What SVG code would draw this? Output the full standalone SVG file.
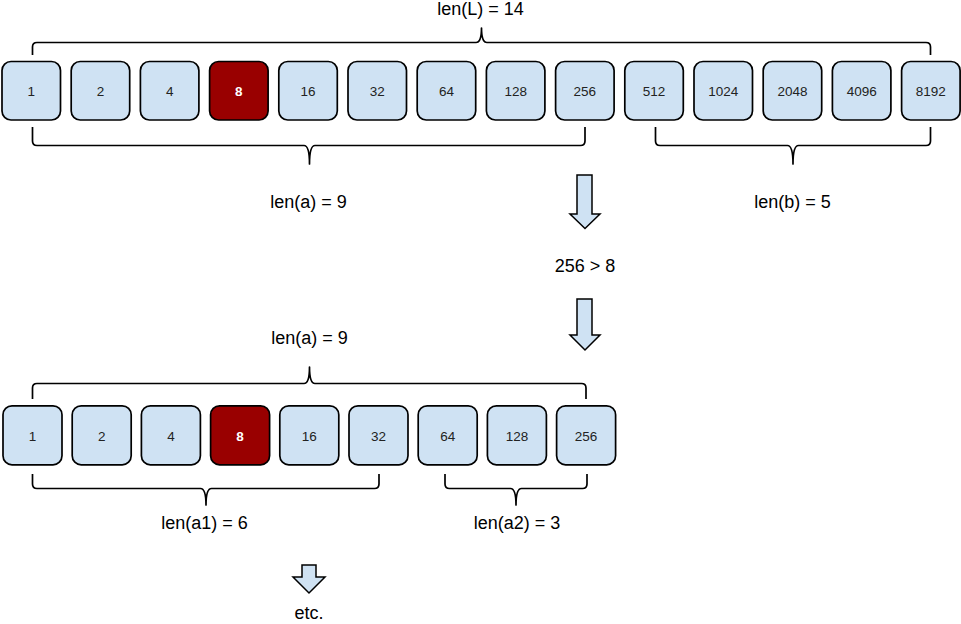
<svg xmlns="http://www.w3.org/2000/svg" width="961" height="624" viewBox="0 0 961 624">
<style>
.box{fill:#cfe2f3;stroke:#000;stroke-width:1.7}
.hl{fill:#990000;stroke:#000;stroke-width:1.7}
.num{font-family:"Liberation Sans",Arial,sans-serif;font-size:13.5px;fill:#222;text-anchor:middle}
.numw{font-family:"Liberation Sans",Arial,sans-serif;font-size:13.5px;font-weight:bold;fill:#fff;text-anchor:middle}
.lbl{font-family:"Liberation Sans",Arial,sans-serif;font-size:18px;fill:#000;text-anchor:middle}
.brace{fill:none;stroke:#000;stroke-width:1.7;stroke-linejoin:round}
.arrow{fill:#cfe2f3;stroke:#000;stroke-width:1.5;stroke-linejoin:miter}
</style>
<rect width="961" height="624" fill="#fff"/>
<g id="top-row">
<g id="t1"><rect class="box" x="2" y="61.5" width="58.5" height="58.5" rx="9"/><text class="num" x="31.25" y="96">1</text></g>
<g id="t2"><rect class="box" x="71.2" y="61.5" width="58.5" height="58.5" rx="9"/><text class="num" x="100.45" y="96">2</text></g>
<g id="t4"><rect class="box" x="140.4" y="61.5" width="58.5" height="58.5" rx="9"/><text class="num" x="169.65" y="96">4</text></g>
<g id="t8"><rect class="hl" x="209.6" y="61.5" width="58.5" height="58.5" rx="9"/><text class="numw" x="238.85" y="96">8</text></g>
<g id="t16"><rect class="box" x="278.8" y="61.5" width="58.5" height="58.5" rx="9"/><text class="num" x="308.05" y="96">16</text></g>
<g id="t32"><rect class="box" x="348" y="61.5" width="58.5" height="58.5" rx="9"/><text class="num" x="377.25" y="96">32</text></g>
<g id="t64"><rect class="box" x="417.2" y="61.5" width="58.5" height="58.5" rx="9"/><text class="num" x="446.45" y="96">64</text></g>
<g id="t128"><rect class="box" x="486.4" y="61.5" width="58.5" height="58.5" rx="9"/><text class="num" x="515.65" y="96">128</text></g>
<g id="t256"><rect class="box" x="555.6" y="61.5" width="58.5" height="58.5" rx="9"/><text class="num" x="584.85" y="96">256</text></g>
<g id="t512"><rect class="box" x="624.8" y="61.5" width="58.5" height="58.5" rx="9"/><text class="num" x="654.05" y="96">512</text></g>
<g id="t1024"><rect class="box" x="694" y="61.5" width="58.5" height="58.5" rx="9"/><text class="num" x="723.25" y="96">1024</text></g>
<g id="t2048"><rect class="box" x="763.2" y="61.5" width="58.5" height="58.5" rx="9"/><text class="num" x="792.45" y="96">2048</text></g>
<g id="t4096"><rect class="box" x="832.4" y="61.5" width="58.5" height="58.5" rx="9"/><text class="num" x="861.65" y="96">4096</text></g>
<g id="t8192"><rect class="box" x="901.6" y="61.5" width="58.5" height="58.5" rx="9"/><text class="num" x="930.85" y="96">8192</text></g>
</g>
<g id="bottom-row">
<g id="b1"><rect class="box" x="3" y="405.8" width="59" height="59" rx="9"/><text class="num" x="32.5" y="440.5">1</text></g>
<g id="b2"><rect class="box" x="72.2" y="405.8" width="59" height="59" rx="9"/><text class="num" x="101.7" y="440.5">2</text></g>
<g id="b4"><rect class="box" x="141.4" y="405.8" width="59" height="59" rx="9"/><text class="num" x="170.9" y="440.5">4</text></g>
<g id="b8"><rect class="hl" x="210.6" y="405.8" width="59" height="59" rx="9"/><text class="numw" x="240.1" y="440.5">8</text></g>
<g id="b16"><rect class="box" x="279.8" y="405.8" width="59" height="59" rx="9"/><text class="num" x="309.3" y="440.5">16</text></g>
<g id="b32"><rect class="box" x="349" y="405.8" width="59" height="59" rx="9"/><text class="num" x="378.5" y="440.5">32</text></g>
<g id="b64"><rect class="box" x="418.2" y="405.8" width="59" height="59" rx="9"/><text class="num" x="447.7" y="440.5">64</text></g>
<g id="b128"><rect class="box" x="487.4" y="405.8" width="59" height="59" rx="9"/><text class="num" x="516.9" y="440.5">128</text></g>
<g id="b256"><rect class="box" x="556.6" y="405.8" width="59" height="59" rx="9"/><text class="num" x="586.1" y="440.5">256</text></g>
</g>
<g id="braces">
<path class="brace" d="M32.5,55 L32.5,47 Q32.5,42.5 37,42.5 L476,42.5 Q481.5,42.5 481.5,28 Q481.5,42.5 487,42.5 L926,42.5 Q930.5,42.5 930.5,47 L930.5,55"/>
<path class="brace" d="M32.5,127 L32.5,141 Q32.5,145.5 37,145.5 L304,145.5 Q309.5,145.5 309.5,164 Q309.5,145.5 315,145.5 L580.5,145.5 Q585,145.5 585,141 L585,127"/>
<path class="brace" d="M655.5,127 L655.5,141 Q655.5,145.5 660,145.5 L787.5,145.5 Q793,145.5 793,164 Q793,145.5 798.5,145.5 L926,145.5 Q930.5,145.5 930.5,141 L930.5,127"/>
<path class="brace" d="M32.5,399 L32.5,388 Q32.5,383.5 37,383.5 L304,383.5 Q309.5,383.5 309.5,367 Q309.5,383.5 315,383.5 L581.5,383.5 Q586,383.5 586,388 L586,399"/>
<path class="brace" d="M32.5,474 L32.5,484 Q32.5,488.5 37,488.5 L200.5,488.5 Q206,488.5 206,505 Q206,488.5 211.5,488.5 L374.5,488.5 Q379,488.5 379,484 L379,474"/>
<path class="brace" d="M445,474 L445,484 Q445,488.5 449.5,488.5 L510.5,488.5 Q516,488.5 516,505 Q516,488.5 521.5,488.5 L582.5,488.5 Q587,488.5 587,484 L587,474"/>
</g>
<g id="connectors">
<polygon class="arrow" points="577,175 592,175 592,214 600,214 585,228.5 570,214 577,214"/>
<polygon class="arrow" points="577,299 592,299 592,335 600,335 585,350 570,335 577,335"/>
<polygon class="arrow" points="302,565 316,565 316,577 325,577 309,593 293,577 302,577"/>
</g>
<g id="labels">
<text class="lbl" x="480.5" y="15">len(L) = 14</text>
<text class="lbl" x="308.5" y="208">len(a) = 9</text>
<text class="lbl" x="792.5" y="208">len(b) = 5</text>
<text class="lbl" x="585" y="272">256 &gt; 8</text>
<text class="lbl" x="309.5" y="344">len(a) = 9</text>
<text class="lbl" x="204.5" y="529">len(a1) = 6</text>
<text class="lbl" x="517" y="529">len(a2) = 3</text>
<text class="lbl" x="309" y="619">etc.</text>
</g>
</svg>
